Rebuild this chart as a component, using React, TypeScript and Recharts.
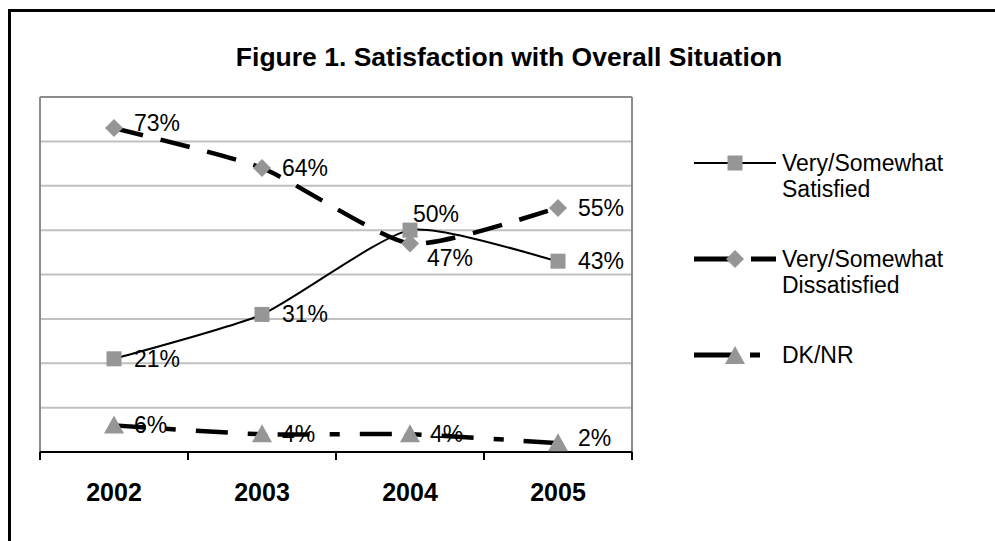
import {
  LineChart,
  Line,
  XAxis,
  YAxis,
  CartesianGrid,
  ReferenceLine,
  LabelList,
} from 'recharts';

const years = ['2002', '2003', '2004', '2005'];
const satisfied = [21, 31, 50, 43];
const dissatisfied = [73, 64, 47, 55];
const dkNr = [6, 4, 4, 2];
const yTicks = [0, 10, 20, 30, 40, 50, 60, 70, 80];
// category boundaries (whole numbers) and category centres (halves)
const xTicks = [0, 0.5, 1, 1.5, 2, 2.5, 3, 3.5, 4];

// where each value label sits next to its point
const satisfiedPlace = ['right', 'right', 'top', 'right'];
const dissatisfiedPlace = ['upright', 'right', 'bottom', 'right'];
const dkNrPlace = ['right', 'right', 'right', 'upright'];

const FONT = 'Arial, "Liberation Sans", sans-serif';
const MARKER = '#969696';

const data = years.map((year, i) => ({
  year,
  pos: i + 0.5,
  satisfied: satisfied[i],
  dissatisfied: dissatisfied[i],
  dkNr: dkNr[i],
}));

// Excel-like smoothed line (soft cardinal curve through the points)
const smoothCurve = (context: any) => {
  let pts: number[][] = [];
  return {
    areaStart() {},
    areaEnd() {},
    lineStart() {
      pts = [];
    },
    lineEnd() {
      if (!pts.length) return;
      context.moveTo(pts[0][0], pts[0][1]);
      for (let i = 0; i < pts.length - 1; i++) {
        const p0 = pts[i - 1] || pts[i];
        const p1 = pts[i];
        const p2 = pts[i + 1];
        const p3 = pts[i + 2] || p2;
        const t = 1 / 10;
        context.bezierCurveTo(
          p1[0] + (p2[0] - p0[0]) * t,
          p1[1] + (p2[1] - p0[1]) * t,
          p2[0] - (p3[0] - p1[0]) * t,
          p2[1] - (p3[1] - p1[1]) * t,
          p2[0],
          p2[1],
        );
      }
    },
    point(x: number, y: number) {
      pts.push([+x, +y]);
    },
  };
};

const SquareDot = (props: any) => {
  const { cx, cy } = props;
  if (cx == null || cy == null) return null;
  return <rect x={cx - 7.5} y={cy - 7.5} width={15} height={15} fill={MARKER} />;
};

const DiamondDot = (props: any) => {
  const { cx, cy } = props;
  if (cx == null || cy == null) return null;
  return <path d={`M${cx},${cy - 9}L${cx + 9},${cy}L${cx},${cy + 9}L${cx - 9},${cy}Z`} fill={MARKER} />;
};

const TriangleDot = (props: any) => {
  const { cx, cy } = props;
  if (cx == null || cy == null) return null;
  return <path d={`M${cx},${cy - 10}L${cx + 10},${cy + 8}L${cx - 10},${cy + 8}Z`} fill={MARKER} />;
};

const YearTick = (props: any) => {
  const { x, y, payload } = props;
  const v = payload.value;
  if (Number.isInteger(v)) {
    return <line x1={x} y1={y} x2={x} y2={y + 8} stroke="#000" strokeWidth={2} />;
  }
  return (
    <text x={x} y={y + 40} textAnchor="middle" dominantBaseline="central" fontSize={25} fontWeight="bold" fontFamily={FONT} fill="#000">
      {years[Math.floor(v)]}
    </text>
  );
};

const makeLabel = (places: string[]) => (props: any) => {
  const { x, y, value, index } = props;
  const place = places[index] || 'right';
  let tx = x + 20;
  let ty = y;
  if (place === 'upright') ty = y - 5;
  if (place === 'top') {
    tx = x + 3;
    ty = y - 16;
  }
  if (place === 'bottom') {
    tx = x + 17;
    ty = y + 15;
  }
  return (
    <text x={tx} y={ty} dominantBaseline="central" textAnchor="start" fontSize={23} fontFamily={FONT} fill="#000">
      {value}%
    </text>
  );
};

const legendItems = [
  { name: ['Very/Somewhat', 'Satisfied'], kind: 'sat' },
  { name: ['Very/Somewhat', 'Dissatisfied'], kind: 'dis' },
  { name: ['DK/NR'], kind: 'dk' },
];

function LegendIcon({ kind }: { kind: string }) {
  return (
    <svg width={82} height={20} style={{ display: 'block' }}>
      {kind === 'sat' && (
        <>
          <line x1={0} y1={10} x2={82} y2={10} stroke="#000" strokeWidth={2} />
          <SquareDot cx={41} cy={10} />
        </>
      )}
      {kind === 'dis' && (
        <>
          <line x1={0} y1={10} x2={41} y2={10} stroke="#000" strokeWidth={5} />
          <line x1={57} y1={10} x2={82} y2={10} stroke="#000" strokeWidth={5} />
          <DiamondDot cx={41} cy={10} />
        </>
      )}
      {kind === 'dk' && (
        <>
          <line x1={0} y1={10} x2={38} y2={10} stroke="#000" strokeWidth={5} />
          <line x1={56} y1={10} x2={66} y2={10} stroke="#000" strokeWidth={5} />
          <TriangleDot cx={41} cy={11} />
        </>
      )}
    </svg>
  );
}

function ChartLegend() {
  return (
    <div style={{ fontFamily: FONT, fontSize: 23, color: '#000' }}>
      {legendItems.map((item) => (
        <div key={item.kind} style={{ display: 'flex', alignItems: 'flex-start', height: 96 }}>
          <div style={{ paddingTop: 3 }}>
            <LegendIcon kind={item.kind} />
          </div>
          <div style={{ marginLeft: 6, lineHeight: '26px' }}>
            {item.name.map((n) => (
              <div key={n}>{n}</div>
            ))}
          </div>
        </div>
      ))}
    </div>
  );
}

export default function App() {
  return (
    <div style={{ position: 'absolute', left: 0, top: 0, width: 995, height: 541, background: '#fff', overflow: 'hidden' }}>
      <div
        style={{
          position: 'absolute',
          left: 8,
          top: 9,
          width: 995,
          height: 541,
          borderTop: '3px solid #000',
          borderLeft: '3px solid #000',
        }}
      />
      <div
        style={{
          position: 'absolute',
          left: 0,
          top: 43,
          width: 1018,
          textAlign: 'center',
          fontFamily: FONT,
          fontWeight: 'bold',
          fontSize: 26.5,
          lineHeight: '28px',
          color: '#000',
        }}
      >
        Figure 1. Satisfaction with Overall Situation
      </div>
      <div style={{ position: 'absolute', left: 0, top: 0 }}>
        <LineChart width={995} height={541} data={data} margin={{ top: 97, right: 363, bottom: 29, left: 40 }}>
          <CartesianGrid horizontal vertical={false} stroke="#c0c0c0" strokeWidth={2} />
          <YAxis hide domain={[0, 80]} ticks={yTicks} />
          <XAxis
            dataKey="pos"
            type="number"
            domain={[0, years.length]}
            ticks={xTicks}
            interval={0}
            height={60}
            tickSize={0}
            tickMargin={0}
            tickLine={false}
            tick={<YearTick />}
            axisLine={{ stroke: '#000', strokeWidth: 2 }}
          />
          <ReferenceLine x={0} stroke="#8c8c8c" strokeWidth={2} />
          <ReferenceLine x={years.length} stroke="#8c8c8c" strokeWidth={2} />
          <ReferenceLine y={80} stroke="#8c8c8c" strokeWidth={2} />
          <Line
            type={smoothCurve as any}
            dataKey="dkNr"
            name="DK/NR"
            stroke="#000"
            strokeWidth={4.5}
            strokeDasharray="32 20 10 20"
            dot={<TriangleDot />}
            activeDot={false}
            isAnimationActive={false}
          >
            <LabelList dataKey="dkNr" content={makeLabel(dkNrPlace)} />
          </Line>
          <Line
            type={smoothCurve as any}
            dataKey="dissatisfied"
            name="Very/Somewhat Dissatisfied"
            stroke="#000"
            strokeWidth={4.5}
            strokeDasharray="30 18"
            dot={<DiamondDot />}
            activeDot={false}
            isAnimationActive={false}
          >
            <LabelList dataKey="dissatisfied" content={makeLabel(dissatisfiedPlace)} />
          </Line>
          <Line
            type={smoothCurve as any}
            dataKey="satisfied"
            name="Very/Somewhat Satisfied"
            stroke="#000"
            strokeWidth={2}
            dot={<SquareDot />}
            activeDot={false}
            isAnimationActive={false}
          >
            <LabelList dataKey="satisfied" content={makeLabel(satisfiedPlace)} />
          </Line>
        </LineChart>
      </div>
      <div style={{ position: 'absolute', left: 694, top: 150, width: 300 }}>
        <ChartLegend />
      </div>
    </div>
  );
}
